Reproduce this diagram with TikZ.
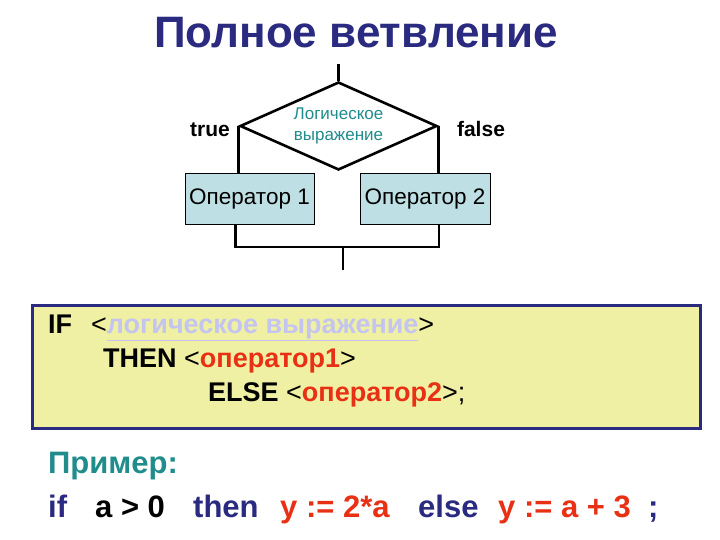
\documentclass[tikz,border=0pt]{standalone}
\usepackage{fontspec}
\setmainfont{Liberation Sans}
\usepackage{xcolor}
\usetikzlibrary{positioning,shapes.geometric,calc}

\definecolor{navy}{RGB}{42,42,128}
\definecolor{tealtxt}{RGB}{32,140,140}
\definecolor{boxfill}{RGB}{190,224,228}
\definecolor{codefill}{RGB}{240,240,164}
\definecolor{lav}{RGB}{196,196,240}
\definecolor{opred}{RGB}{232,48,20}

\tikzset{
  flow/.style={line width=2.6pt},
  opbox/.style={draw, line width=0.8pt, fill=boxfill, minimum width=129pt, minimum height=51pt,
    inner sep=0pt, font=\fontsize{22.5}{22.5}\selectfont},
  branch/.style={font=\bfseries\fontsize{21}{21}\selectfont},
  code/.style={anchor=base west, inner sep=0pt, font=\bfseries\fontsize{27}{27}\selectfont},
  ex/.style={anchor=base west, inner sep=0pt, font=\bfseries\fontsize{31}{31}\selectfont}
}

\begin{document}
\begin{tikzpicture}[x=1pt,y=-1pt]
    \useasboundingbox[fill=white] (0,0) rectangle (720,540);
    % title
    \node[anchor=base, text=navy, font=\bfseries\fontsize{44}{44}\selectfont] (title) at (356,48) {Полное ветвление};
    % flowchart
    \coordinate (in) at (338.5,64);
    \node[draw, flow, diamond, minimum width=197pt, minimum height=88pt, inner sep=0pt] (cond) at (338.5,126) {};
    \node[text=tealtxt, align=center, inner sep=0pt, font=\fontsize{17}{21}\selectfont] (condtxt) at (cond.center) {Логическое\\выражение};
    \node[branch, anchor=base] (t) at (210,137) {true};
    \node[branch, anchor=base] (f) at (481,137) {false};
    \node[opbox] (op1) at (249.5,198.5) {Оператор 1};
    \node[opbox, minimum width=130pt] (op2) at (425,198.5) {Оператор 2};
    \coordinate (j) at (343,247);
    \coordinate (out) at (343,270);
    \draw[flow] (in) -- (cond.north);
    \draw[flow] (cond.west) -- (cond.west |- op1.north);
    \draw[flow] (cond.east) -- (cond.east |- op2.north);
    \draw[flow] ([xshift=-14pt]op1.south) |- (j) -| ([xshift=14pt]op2.south);
    \draw[flow] (j) -- (out);
    % syntax box
    \node[draw=navy, line width=3pt, fill=codefill, minimum width=668pt, minimum height=123pt,
          inner sep=0pt] (syn) at (366,366.5) {};
    \node[code] (l1) at (48,333) {IF\hspace{0.7em}\mdseries<\bfseries\textcolor{lav}{\underline{логическое выражение}}\mdseries>};
    \node[code] (l2) at (103,367) {THEN \mdseries<\bfseries\textcolor{opred}{оператор1}\mdseries>};
    \node[code] (l3) at (208,401) {ELSE \mdseries<\bfseries\textcolor{opred}{оператор2}\mdseries>;};
    % example
    \node[ex, text=tealtxt] (pr) at (48,473) {Пример:};
    \node[ex, text=navy] (e1) at (48,517) {if};
    \node[ex] (e2) at (95,517) {a > 0};
    \node[ex, text=navy] (e3) at (193,517) {then};
    \node[ex, text=opred] (e4) at (280,517) {y := 2*a};
    \node[ex, text=navy] (e5) at (418,517) {else};
    \node[ex, text=opred] (e6) at (498,517) {y := a + 3};
    \node[ex, text=navy] (e7) at (648,517) {;};
\end{tikzpicture}
\end{document}
